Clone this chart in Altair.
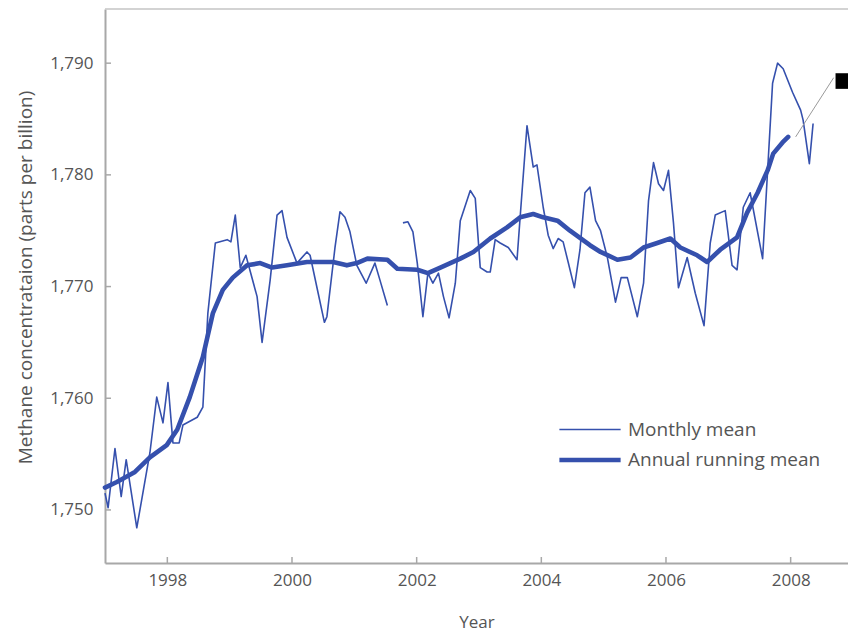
import altair as alt
import pandas as pd

# Monthly mean methane (ppb); the record has a gap late 2001
monthly_year = [
    1997.00, 1997.05, 1997.16, 1997.26, 1997.34, 1997.51, 1997.72, 1997.83, 1997.93, 1998.01,
    1998.09, 1998.19, 1998.25, 1998.48, 1998.57, 1998.65, 1998.77, 1998.96, 1999.02, 1999.09,
    1999.17, 1999.26, 1999.44, 1999.52, 1999.65, 1999.76, 1999.84, 1999.92, 2000.08, 2000.24,
    2000.29, 2000.42, 2000.52, 2000.56, 2000.69, 2000.77, 2000.85, 2000.93, 2001.04, 2001.19,
    2001.33, 2001.41, 2001.53,
    2001.78, 2001.86, 2001.94, 2002.01, 2002.10, 2002.18, 2002.26, 2002.35, 2002.43, 2002.52,
    2002.62, 2002.70, 2002.86, 2002.94, 2003.02, 2003.13, 2003.18, 2003.26, 2003.34, 2003.47,
    2003.61, 2003.66, 2003.77, 2003.87, 2003.93, 2004.03, 2004.11, 2004.19, 2004.27, 2004.35,
    2004.43, 2004.53, 2004.62, 2004.70, 2004.78, 2004.87, 2004.95, 2005.06, 2005.19, 2005.28,
    2005.38, 2005.54, 2005.64, 2005.72, 2005.80, 2005.88, 2005.96, 2006.04, 2006.12, 2006.20,
    2006.34, 2006.47, 2006.61, 2006.71, 2006.79, 2006.95, 2007.06, 2007.14, 2007.24, 2007.35,
    2007.55, 2007.71, 2007.79, 2007.88, 2008.03, 2008.16, 2008.20, 2008.30, 2008.36,
]
monthly_ppb = [
    1751.5, 1750.2, 1755.5, 1751.2, 1754.5, 1748.4, 1755.1, 1760.1, 1757.8, 1761.4,
    1756.0, 1756.0, 1757.6, 1758.3, 1759.2, 1767.6, 1773.9, 1774.2, 1774.0, 1776.4,
    1771.7, 1772.8, 1769.1, 1765.0, 1770.6, 1776.4, 1776.8, 1774.4, 1772.1, 1773.1,
    1772.8, 1769.4, 1766.8, 1767.3, 1773.5, 1776.7, 1776.2, 1774.9, 1771.9, 1770.3,
    1772.1, 1770.6, 1768.3,
    1775.7, 1775.8, 1774.9, 1772.1, 1767.3, 1771.2, 1770.3, 1771.2, 1769.1, 1767.2,
    1770.3, 1775.9, 1778.6, 1777.9, 1771.7, 1771.3, 1771.3, 1774.2, 1773.9, 1773.5,
    1772.4, 1776.2, 1784.4, 1780.7, 1780.9, 1777.1, 1774.6, 1773.4, 1774.3, 1774.0,
    1772.2, 1769.9, 1773.3, 1778.4, 1778.9, 1775.9, 1775.0, 1772.6, 1768.6, 1770.8,
    1770.8, 1767.3, 1770.3, 1777.7, 1781.1, 1779.2, 1778.6, 1780.4, 1775.7, 1769.9,
    1772.6, 1769.4, 1766.5, 1773.9, 1776.4, 1776.8, 1771.9, 1771.5, 1777.1, 1778.4,
    1772.5, 1788.2, 1790.0, 1789.5, 1787.4, 1785.8, 1784.9, 1781.0, 1784.6,
]
monthly_gap_start = 2001.6  # no monthly values between mid and late 2001

# Annual running mean (ppb)
annual_year = [
    1997.00, 1997.19, 1997.48, 1997.72, 1997.99, 1998.16, 1998.36, 1998.57, 1998.73, 1998.89,
    1999.05, 1999.28, 1999.49, 1999.68, 1999.92, 2000.24, 2000.66, 2000.88, 2001.04, 2001.21,
    2001.53, 2001.69, 2002.01, 2002.18, 2002.38, 2002.70, 2002.91, 2003.18, 2003.45, 2003.66,
    2003.87, 2004.03, 2004.26, 2004.46, 2004.78, 2004.95, 2005.22, 2005.43, 2005.64, 2005.86,
    2006.07, 2006.23, 2006.50, 2006.66, 2006.87, 2007.14, 2007.30, 2007.47, 2007.63, 2007.72,
    2007.87, 2007.96,
]
annual_ppb = [
    1752.0, 1752.5, 1753.4, 1754.7, 1755.8, 1757.2, 1760.1, 1763.7, 1767.6, 1769.7,
    1770.8, 1771.9, 1772.1, 1771.7, 1771.9, 1772.2, 1772.2, 1771.9, 1772.1, 1772.5,
    1772.4, 1771.6, 1771.5, 1771.2, 1771.7, 1772.5, 1773.1, 1774.3, 1775.3, 1776.2,
    1776.5, 1776.2, 1775.9, 1775.0, 1773.7, 1773.1, 1772.4, 1772.6, 1773.5, 1773.9,
    1774.3, 1773.5, 1772.8, 1772.2, 1773.3, 1774.4, 1776.6, 1778.4, 1780.4, 1781.9,
    1782.9, 1783.4,
]

y_ticks = [1750, 1760, 1770, 1780, 1790]
x_ticks = [1998, 2000, 2002, 2004, 2006, 2008]

# callout leader and marker at the top right
leader_year = [2008.08, 2008.69]
leader_ppb = [1783.4, 1788.7]
marker_year = [2008.72, 2008.95]
marker_ppb = [1787.7, 1789.1]

X_DOMAIN = [1997.0, 2008.92]
Y_DOMAIN = [1745.25, 1794.85]
W, H = 743, 554
BLUE = "#3550ad"
AXIS_GREY = "#a8a8a8"
TEXT_GREY = "#555555"
FONT = "Open Sans"
SERIES = ["Monthly mean", "Annual running mean"]

monthly = pd.DataFrame({"year": monthly_year, "ppb": monthly_ppb, "series": SERIES[0]})
monthly["seg"] = (monthly["year"] > monthly_gap_start).astype(int)
annual = pd.DataFrame({"year": annual_year, "ppb": annual_ppb, "series": SERIES[1]})

xs = alt.Scale(domain=X_DOMAIN, nice=False, zero=False)
ys = alt.Scale(domain=Y_DOMAIN, nice=False, zero=False)

# long horizontal legend swatch, wider than the unit symbol box
SWATCH = "M-1.75,0H1.75"
color = alt.Color("series:N", scale=alt.Scale(domain=SERIES, range=[BLUE, BLUE]),
                  legend=alt.Legend(title=None, orient="none", legendX=465, legendY=402,
                                    symbolType=SWATCH, symbolSize=1225,
                                    labelFont=FONT, labelFontSize=19, labelColor=TEXT_GREY,
                                    labelLimit=400, labelOffset=18, rowPadding=0,
                                    padding=0))
width_enc = alt.StrokeWidth("series:N", scale=alt.Scale(domain=SERIES, range=[1.6, 4.6]),
                            legend=None)

x_axis = alt.Axis(values=x_ticks, format="d", ticks=False, grid=False,
                  domainColor=AXIS_GREY, domainWidth=2, labelFont=FONT, labelFontSize=17,
                  labelColor=TEXT_GREY, labelPadding=9, title="Year", titleFont=FONT,
                  titleFontSize=17, titleFontWeight="normal", titleColor=TEXT_GREY,
                  titlePadding=26)
y_axis = alt.Axis(values=y_ticks, format=",d", ticks=False, grid=False,
                  domainColor=AXIS_GREY, domainWidth=2, labelFont=FONT, labelFontSize=17,
                  labelColor=TEXT_GREY, labelPadding=12,
                  title="Methane concentrataion (parts per billion)", titleFont=FONT,
                  titleFontSize=19, titleFontWeight="normal", titleColor=TEXT_GREY,
                  titlePadding=14, titleY=268)

monthly_line = alt.Chart(monthly).mark_line(strokeJoin="round").encode(
    x=alt.X("year:Q", scale=xs, axis=x_axis),
    y=alt.Y("ppb:Q", scale=ys, axis=y_axis),
    detail="seg:N", color=color, strokeWidth=width_enc,
)
annual_line = alt.Chart(annual).mark_line(strokeJoin="round", strokeCap="round").encode(
    x=alt.X("year:Q", scale=xs), y=alt.Y("ppb:Q", scale=ys),
    color=color, strokeWidth=width_enc,
)

# inward tick marks
ytick_df = pd.DataFrame({"v": y_ticks})
xtick_df = pd.DataFrame({"v": x_ticks})
yticks = alt.Chart(ytick_df).mark_rule(color=AXIS_GREY, strokeWidth=1.5).encode(
    y=alt.Y("v:Q", scale=ys), x=alt.value(0), x2=alt.value(6))
xticks = alt.Chart(xtick_df).mark_rule(color=AXIS_GREY, strokeWidth=1.5).encode(
    x=alt.X("v:Q", scale=xs), y=alt.value(H), y2=alt.value(H - 6))

# top frame line
top_line = alt.Chart(pd.DataFrame({"v": [0]})).mark_rule(
    color="#c4c4c4", strokeWidth=1.5).encode(
    y=alt.value(0), x=alt.value(0), x2=alt.value(W))

leader = alt.Chart(pd.DataFrame({"year": leader_year, "ppb": leader_ppb})).mark_line(
    color="#9a9a9a", strokeWidth=1).encode(
    x=alt.X("year:Q", scale=xs), y=alt.Y("ppb:Q", scale=ys))
marker = alt.Chart(pd.DataFrame({"x1": [marker_year[0]], "x2": [marker_year[1]],
                                 "y1": [marker_ppb[0]], "y2": [marker_ppb[1]]})).mark_rect(
    color="black").encode(
    x=alt.X("x1:Q", scale=xs), x2="x2:Q", y=alt.Y("y1:Q", scale=ys), y2="y2:Q")

chart = alt.layer(
    top_line, yticks, xticks, monthly_line, annual_line, leader, marker
).properties(
    width=W, height=H,
    autosize=alt.AutoSizeParams(type="none"),
    padding={"left": 105, "top": 9, "right": 0, "bottom": 71},
    background="white",
).configure_view(stroke=None)

chart.save("out.html", embed_options={"renderer": "svg", "actions": False})
